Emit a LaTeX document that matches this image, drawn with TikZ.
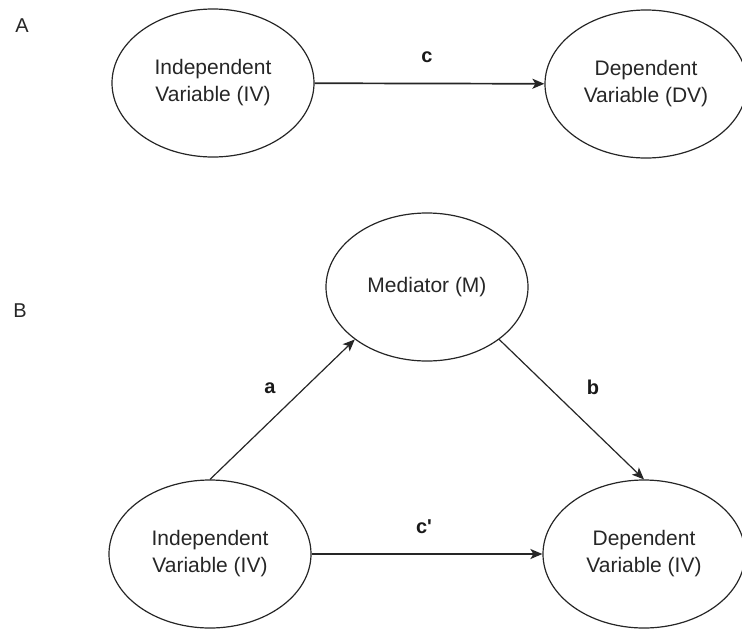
\documentclass[tikz,border=0pt]{standalone}
\usepackage{fontspec}
\setmainfont{Liberation Sans}
\usetikzlibrary{shapes.geometric,arrows.meta}
\begin{document}
\begin{tikzpicture}[x=1pt,y=-1pt,
  var/.style={ellipse, draw=black!85, line width=1.2pt, minimum width=202pt,
    minimum height=148pt, inner sep=0pt, align=center, text=black!85,
    font=\fontsize{21}{27}\selectfont},
  path/.style={draw=black!85, line width=1.2pt, -{Stealth[length=12pt,width=10pt,inset=3pt]}},
  mainpath/.style={path, line width=1.7pt},
  coef/.style={font=\fontsize{20}{24}\selectfont\bfseries, text=black!90},
  panel/.style={font=\fontsize{20}{24}\selectfont, text=black!85}]
  \useasboundingbox (0,0) rectangle (742,630);

  % Panel A: total effect
  \node[panel] (labA) at (22,26) {A};
  \node[var] (iv1) at (213,83) {Independent\\Variable (IV)};
  \node[var] (dv1) at (646,84) {Dependent\\Variable (DV)};
  \draw[mainpath] (iv1) -- (dv1);
  \node[coef] (c) at (427,57) {c};

  % Panel B: mediation model
  \node[panel] (labB) at (20,311) {B};
  \node[var] (med) at (427,287) {Mediator (M)};
  \node[var] (iv2) at (210,554) {Independent\\Variable (IV)};
  \node[var] (dv2) at (644,554) {Dependent\\Variable (IV)};
  \draw[path] (iv2.north) -- (med.216);
  \draw[path] (med.324) -- (dv2.north);
  \draw[mainpath] (iv2) -- (dv2);
  \node[coef] (a) at (270,388) {a};
  \node[coef] (b) at (593,387) {b};
  \node[coef] (cp) at (424,527) {c\textquotesingle};
\end{tikzpicture}
\end{document}
